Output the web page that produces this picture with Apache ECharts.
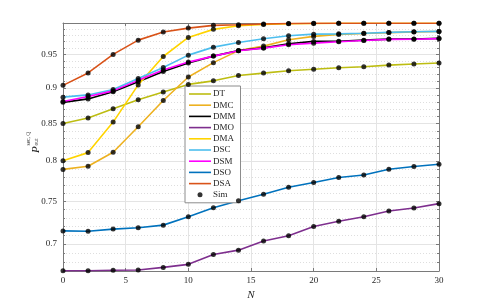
<!DOCTYPE html>
<html>
<head>
<meta charset="utf-8">
<script src="https://cdn.jsdelivr.net/npm/echarts@6/dist/echarts.min.js"></script>
<style>html,body{margin:0;padding:0;background:#fff;}#c{width:485px;height:305px;}</style>
</head>
<body>
<div id="c"></div>
<script>
// ---- data ----
var N = [0, 2, 4, 6, 8, 10, 12, 14, 16, 18, 20, 22, 24, 26, 28, 30];
var DT  = [0.850, 0.8575, 0.8705, 0.8830, 0.8942, 0.9052, 0.9104, 0.9183, 0.9218, 0.9254, 0.9275, 0.9297, 0.9313, 0.9338, 0.9355, 0.9370];
var DMC = [0.7894, 0.7934, 0.8115, 0.8455, 0.8820, 0.9161, 0.9375, 0.9558, 0.9628, 0.9726, 0.9780, 0.9811, 0.9825, 0.9840, 0.9851, 0.9857];
var DMM = [0.8794, 0.8843, 0.8944, 0.9092, 0.9243, 0.9370, 0.9474, 0.9561, 0.9600, 0.9664, 0.9701, 0.9703, 0.9721, 0.9737, 0.9739, 0.9748];
var DMO = [0.6705, 0.6705, 0.6710, 0.6712, 0.6741, 0.6774, 0.6883, 0.6931, 0.7034, 0.7094, 0.7201, 0.7261, 0.7314, 0.7382, 0.7418, 0.7470];
var DMA = [0.8003, 0.8110, 0.8519, 0.9045, 0.9468, 0.9763, 0.9891, 0.9948, 0.9970, 0.9980, 0.9985, 0.9988, 0.9990, 0.9990, 0.9990, 0.9990];
var DSC = [0.8868, 0.8900, 0.8978, 0.9137, 0.9303, 0.9489, 0.9612, 0.9685, 0.9742, 0.9790, 0.9815, 0.9820, 0.9829, 0.9843, 0.9853, 0.9859];
var DSM = [0.8807, 0.8878, 0.8958, 0.9111, 0.9263, 0.9383, 0.9474, 0.9555, 0.9597, 0.9649, 0.9674, 0.9695, 0.9716, 0.9733, 0.9735, 0.9745];
var DSO = [0.7149, 0.7146, 0.7170, 0.7186, 0.7216, 0.7314, 0.7421, 0.7506, 0.7583, 0.7669, 0.7728, 0.7792, 0.7822, 0.7896, 0.7930, 0.7960];
var DSA = [0.9038, 0.9220, 0.9500, 0.9721, 0.9848, 0.9911, 0.9955, 0.9965, 0.9976, 0.9985, 0.9988, 0.9990, 0.9990, 0.9990, 0.9990, 0.9990];
var xTicks = [0, 5, 10, 15, 20, 25, 30];
var yTicks = [0.7, 0.75, 0.8, 0.85, 0.9, 0.95];
var yMinor = [0.67, 0.68, 0.69, 0.71, 0.72, 0.73, 0.74, 0.76, 0.77, 0.78, 0.79, 0.81, 0.82, 0.83, 0.84, 0.86, 0.87, 0.88, 0.89, 0.91, 0.92, 0.93, 0.94, 0.96, 0.97, 0.98, 0.99];

var names  = ['DT', 'DMC', 'DMM', 'DMO', 'DMA', 'DSC', 'DSM', 'DSO', 'DSA'];
var values = [DT, DMC, DMM, DMO, DMA, DSC, DSM, DSO, DSA];
var colors = ['#BDBD12', '#EDB120', '#000000', '#7E2F8E', '#FFD400', '#4DBEEE', '#FF00FF', '#0072BD', '#D95319'];

var FONT = 'Liberation Serif';
var YMIN = 0.6702, YMAX = 0.9993;

function pairs(arr) { return arr.map(function (v, i) { return [N[i], v]; }); }

var series = names.map(function (nm, k) {
  return {
    name: nm, type: 'line', data: pairs(values[k]),
    xAxisIndex: 0, yAxisIndex: 0,
    symbol: 'none', smooth: false,
    lineStyle: { color: colors[k], width: 1.6 },
    itemStyle: { color: colors[k] },
    z: 3, animation: false
  };
});
var sim = [];
values.forEach(function (arr) { sim = sim.concat(pairs(arr)); });
series.push({
  name: 'Sim', type: 'scatter', data: sim, symbol: 'circle', symbolSize: 5,
  itemStyle: { color: '#000' }, xAxisIndex: 0, yAxisIndex: 0, z: 5, animation: false
});

var legendData = names.map(function (nm) {
  return { name: nm, icon: 'path://M0,0h22v1.6h-22z' };
});
legendData.push({ name: 'Sim', icon: 'circle' });

var axisLineStyle = { show: true, lineStyle: { color: '#7a7a7a', width: 1 } };

var chart = echarts.init(document.getElementById('c'), null, { renderer: 'canvas' });
chart.setOption({
  animation: false,
  backgroundColor: '#fff',
  grid: { left: 63, right: 46, top: 23, bottom: 34, containLabel: false, outerBoundsMode: 'none' },
  legend: {
    orient: 'vertical', left: 185, top: 86,
    data: legendData,
    itemWidth: 22, itemHeight: 5, itemGap: 1.2, symbolKeepAspect: true,
    backgroundColor: '#fff', borderColor: '#8c8c8c', borderWidth: 1,
    padding: [3, 5, 3, 4],
    textStyle: { fontFamily: FONT, fontSize: 9, lineHeight: 10, color: '#262626', padding: [0, 0, 0, -3] }
  },
  xAxis: [{
    type: 'value', min: 0, max: 30, interval: 5, position: 'bottom',
    axisLine: axisLineStyle,
    axisTick: { show: true, inside: true, length: 3, lineStyle: { color: '#7a7a7a' }, customValues: xTicks },
    axisLabel: { fontFamily: FONT, fontSize: 9, color: '#262626', margin: 5, customValues: xTicks },
    splitLine: { show: true, lineStyle: { color: '#e4e4e4', width: 1 } },
    name: 'N', nameLocation: 'middle', nameGap: 19,
    nameTextStyle: { fontFamily: FONT, fontSize: 11, fontStyle: 'italic', color: '#262626' }
  }, {
    type: 'value', min: 0, max: 30, interval: 5, position: 'top',
    axisLine: axisLineStyle,
    axisTick: { show: true, inside: true, length: 3, lineStyle: { color: '#7a7a7a' } },
    axisLabel: { show: false }, splitLine: { show: false }
  }],
  yAxis: [{
    type: 'log', min: YMIN, max: YMAX, position: 'left',
    axisLine: axisLineStyle,
    axisTick: { show: true, inside: true, length: 3, lineStyle: { color: '#7a7a7a' }, customValues: yTicks },
    axisLabel: { fontFamily: FONT, fontSize: 9, color: '#262626', margin: 6, customValues: yTicks,
      formatter: function (v) { return String(+v.toFixed(2)); } },
    splitLine: { show: true, lineStyle: { color: '#e4e4e4', width: 1 } }
  }, {
    type: 'log', min: YMIN, max: YMAX, position: 'left',
    axisLine: { show: false },
    axisTick: { show: true, inside: true, length: 2, lineStyle: { color: '#7a7a7a' }, customValues: yMinor },
    axisLabel: { show: false, customValues: yMinor },
    splitLine: { show: true, lineStyle: { color: '#dedede', width: 1, type: [1, 2] } }
  }, {
    type: 'log', min: YMIN, max: YMAX, position: 'right',
    axisLine: axisLineStyle,
    axisTick: { show: true, inside: true, length: 3, lineStyle: { color: '#7a7a7a' }, customValues: yTicks },
    axisLabel: { show: false, customValues: yTicks }, splitLine: { show: false }
  }, {
    type: 'log', min: YMIN, max: YMAX, position: 'right',
    axisLine: { show: false },
    axisTick: { show: true, inside: true, length: 2, lineStyle: { color: '#7a7a7a' }, customValues: yMinor },
    axisLabel: { show: false, customValues: yMinor }, splitLine: { show: false }
  }],
  graphic: [{
    type: 'group', x: 31, y: 153, rotation: Math.PI / 2,
    children: [
      { type: 'text', x: 0, y: 0, style: { text: 'P', font: 'italic 11px "' + FONT + '"', fill: '#262626', textBaseline: 'alphabetic' } },
      { type: 'text', x: 7.5, y: -5, style: { text: 'sec, Q', font: '5.5px "' + FONT + '"', fill: '#262626', textBaseline: 'alphabetic' } },
      { type: 'text', x: 7.5, y: 3, style: { text: 'out', font: '5.5px "' + FONT + '"', fill: '#262626', textBaseline: 'alphabetic' } }
    ]
  }],
  series: series
});
</script>
</body>
</html>
